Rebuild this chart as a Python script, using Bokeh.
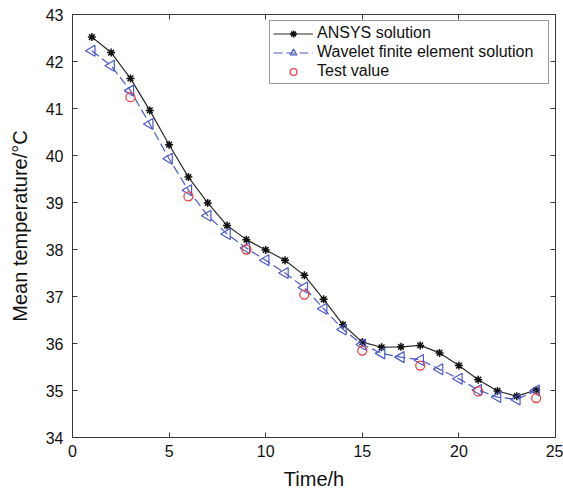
from bokeh.plotting import figure
from bokeh.models import LinearAxis, FixedTicker, Range1d
from bokeh.embed import file_html
from bokeh.resources import INLINE
import math

# ---- data ----
hours = list(range(1, 25))
ansys = [42.52, 42.19, 41.64, 40.96, 40.23, 39.54, 38.99, 38.51, 38.21, 37.99, 37.77, 37.45,
         36.94, 36.40, 36.03, 35.92, 35.93, 35.96, 35.80, 35.53, 35.23, 34.99, 34.88, 35.01]
wavelet = [42.23, 41.91, 41.38, 40.67, 39.93, 39.26, 38.72, 38.33, 38.03, 37.77, 37.50, 37.19,
           36.74, 36.30, 35.98, 35.79, 35.71, 35.65, 35.45, 35.25, 35.01, 34.86, 34.81, 35.00]
test_hours = [3, 6, 9, 12, 15, 18, 21, 24]
test_vals = [41.24, 39.13, 38.00, 37.04, 35.85, 35.53, 34.98, 34.84]
x_ticks = [0, 5, 10, 15, 20, 25]
y_ticks = [34, 35, 36, 37, 38, 39, 40, 41, 42, 43]

FONT = "Liberation Sans"
AX = "#3a3a3a"

p = figure(width=563, height=496, output_backend="svg", toolbar_location=None,
           x_range=Range1d(0, 25), y_range=Range1d(34, 43),
           min_border_left=72, min_border_right=8, min_border_top=14, min_border_bottom=59)
p.xgrid.visible = False
p.ygrid.visible = False
p.outline_line_color = AX
p.background_fill_color = "white"

# lines and markers
p.line(hours, ansys, line_color="#2b2b2b", line_width=1.2, legend_label="ANSYS solution")
p.scatter(hours, ansys, marker="asterisk", size=8, line_color="#111111", line_width=1.5,
          legend_label="ANSYS solution")
p.line(hours, wavelet, line_color="#4a5ac8", line_width=1.2, line_dash="9 4",
       legend_label="Wavelet finite element solution")
p.scatter(hours, wavelet, marker="triangle", angle=math.pi / 2, size=11,
          line_color="#4a5ac8", fill_color=None, line_width=1.2,
          legend_label="Wavelet finite element solution")
p.scatter(test_hours, test_vals, marker="circle", size=9, line_color="#e8434a",
          fill_color=None, line_width=1.3, legend_label="Test value")

for ax in p.xaxis:
    ax.ticker = FixedTicker(ticks=x_ticks)
for ax in p.yaxis:
    ax.ticker = FixedTicker(ticks=y_ticks)

for ax in list(p.xaxis) + list(p.yaxis):
    ax.axis_line_color = AX
    ax.major_tick_line_color = AX
    ax.major_tick_in = 5
    ax.major_tick_out = 0
    ax.minor_tick_line_color = None
    ax.major_label_text_font = FONT
    ax.major_label_text_font_size = "16px"
    ax.major_label_text_color = "#111111"
    ax.axis_label_text_font = FONT
    ax.axis_label_text_font_size = "20px"
    ax.axis_label_text_font_style = "normal"
    ax.axis_label_text_color = "#111111"

p.xaxis.axis_label = "Time/h"
p.xaxis.major_label_standoff = 7
p.xaxis.axis_label_standoff = 8
p.yaxis.axis_label = "Mean temperature/\u00b0C"
p.yaxis.major_label_standoff = 9
p.yaxis.axis_label_standoff = 12

top = LinearAxis(ticker=FixedTicker(ticks=x_ticks))
right = LinearAxis(ticker=FixedTicker(ticks=y_ticks))
for ax in (top, right):
    ax.axis_line_color = AX
    ax.major_tick_line_color = AX
    ax.major_tick_in = 5
    ax.major_tick_out = 0
    ax.minor_tick_line_color = None
    ax.major_label_text_font_size = "0px"
    ax.major_label_text_color = None
    ax.major_label_standoff = 0
p.add_layout(top, "above")
p.add_layout(right, "right")

# legend
leg = p.legend[0]
leg.location = "top_right"
leg.margin = 6
leg.border_line_color = "#333333"
leg.border_line_width = 1
leg.background_fill_color = "white"
leg.background_fill_alpha = 1
leg.label_text_font = FONT
leg.label_text_font_size = "16px"
leg.label_text_color = "#111111"
leg.glyph_width = 40
leg.glyph_height = 17
leg.label_height = 17
leg.label_width = 228
leg.label_standoff = 4
leg.spacing = 1
leg.padding = 3

open("out.html", "w").write(file_html(p, INLINE))
